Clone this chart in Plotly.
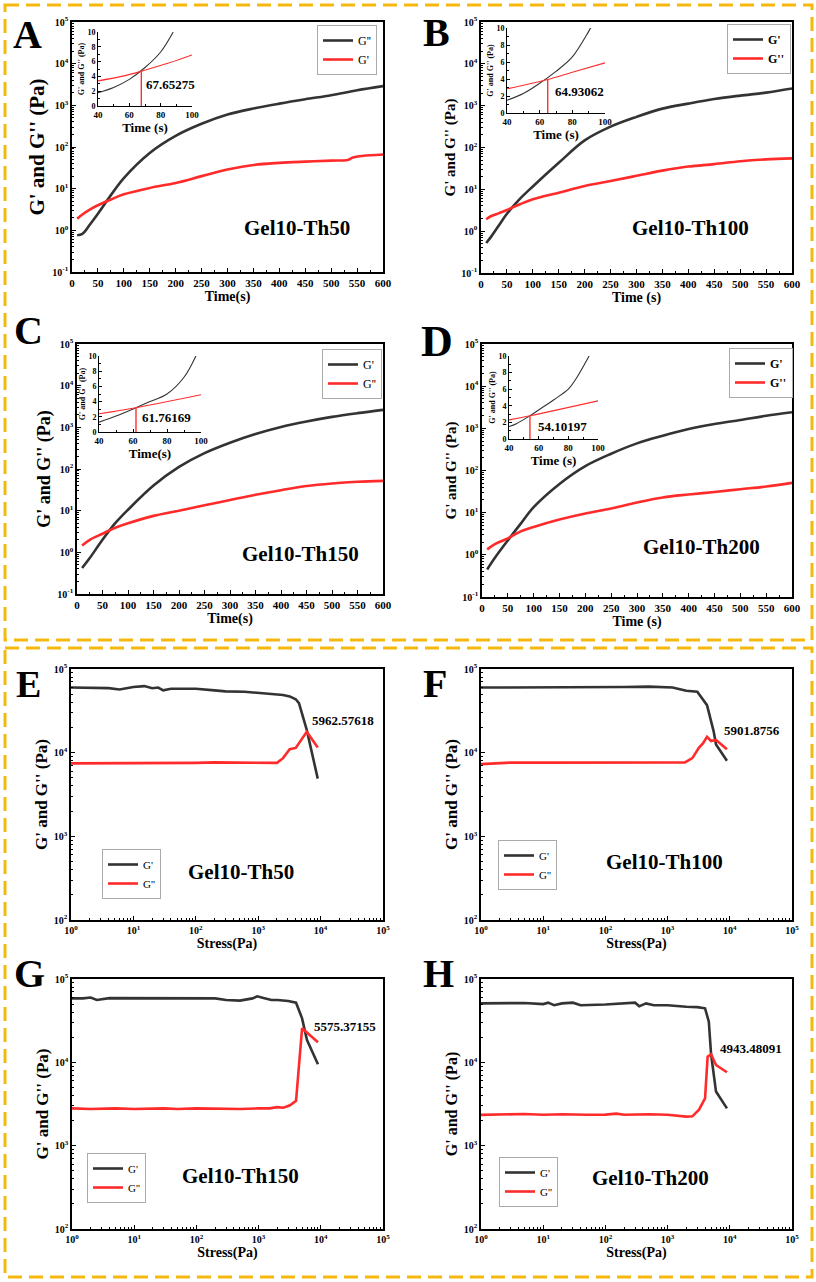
import math
import plotly.graph_objects as go

# ---------------- data ----------------
# Time sweeps (panels A-D): time (s), moduli (Pa)
time_A = [10, 20, 35, 50, 75, 100, 150, 200, 250, 300, 350, 400, 450, 500, 550, 600]
A_black = [0.76, 0.82, 1.4, 2.5, 7.0, 18, 72, 185, 360, 600, 840, 1100, 1400, 1750, 2300, 2900]
time_A_red = [10, 20, 35, 50, 75, 100, 150, 200, 250, 300, 350, 400, 450, 500, 532, 542, 560, 600]
A_red = [1.9, 2.4, 3.2, 4.0, 5.5, 7.3, 10.4, 13.7, 20, 29, 37, 41.5, 44.5, 47, 49, 56, 61, 66]

time_B = [10, 20, 35, 50, 75, 100, 150, 200, 250, 300, 350, 400, 450, 500, 550, 600]
B_black = [0.52, 0.75, 1.4, 2.6, 5.9, 11.7, 43, 148, 315, 540, 850, 1120, 1440, 1740, 2050, 2570]
B_red = [1.93, 2.3, 2.7, 3.2, 4.4, 5.8, 8.3, 12, 15.8, 21, 28, 35, 40, 47, 52, 55]

time_C = [10, 25, 50, 75, 100, 150, 200, 250, 300, 350, 400, 450, 500, 550, 600]
C_black = [0.42, 0.73, 2.0, 5.0, 10.5, 40, 112, 240, 427, 690, 1020, 1380, 1780, 2190, 2630]
C_red = [1.45, 2.0, 2.8, 3.9, 5.0, 7.5, 10, 13.5, 18, 24, 31, 39, 45, 49.5, 52]

time_D = [10, 25, 50, 75, 100, 150, 200, 250, 300, 350, 400, 450, 500, 550, 600]
D_black = [0.45, 0.85, 2.2, 5.5, 13.5, 48, 127, 250, 440, 665, 960, 1270, 1580, 1990, 2400]
D_red = [1.35, 1.8, 2.45, 3.6, 4.6, 6.9, 9.6, 12.6, 17.5, 23, 27, 31, 36, 41.6, 51]

# Insets (zoom 40-100 s, linear modulus)
inA_t_black = [40, 50, 60, 70, 80, 88]
inA_black = [1.8, 2.5, 3.6, 5.2, 7.3, 10.0]
inA_t_red = [40, 55, 67.65, 85, 100]
inA_red = [3.4, 4.0, 4.7, 5.8, 6.9]

inB_t_black = [40, 50, 60, 70, 80, 90, 92]
inB_black = [1.5, 2.3, 3.5, 4.9, 6.6, 9.6, 10.3]
inB_t_red = [40, 64.93, 80, 100]
inB_red = [2.85, 3.95, 4.8, 5.9]

inC_t_black = [40, 50, 61.76, 70, 80, 90, 97]
inC_black = [1.3, 2.1, 3.2, 4.0, 5.0, 7.2, 10.0]
inC_t_red = [40, 61.76, 100]
inC_red = [2.4, 3.2, 4.9]

inD_t_black = [40, 45, 54.1, 60, 70, 80, 85, 94]
inD_black = [1.5, 1.85, 2.8, 3.5, 4.7, 6.0, 7.2, 10.0]
inD_t_red = [40, 54.1, 100]
inD_red = [2.3, 2.8, 4.6]

cross_time = [67.65275, 64.93062, 61.76169, 54.10197]
cross_mod = [4.7, 3.95, 3.2, 2.8]
cross_time_text = ["67.65275", "64.93062", "61.76169", "54.10197"]

# Stress sweeps (panels E-H): stress (Pa), moduli (Pa)
E_s_black = [1, 2, 4, 6, 8, 10, 15, 20, 25, 30, 40, 100, 200, 300, 600, 1000, 2000, 2500, 3200, 4000, 4500, 6000, 9000]
E_black = [60000, 59500, 59000, 57000, 59500, 61000, 62500, 59000, 60000, 55500, 58000, 58000, 55500, 54000, 53500, 52000, 50500, 49000, 47000, 43500, 39000, 18700, 4900]
E_s_red = [1, 2, 4, 10, 30, 100, 200, 500, 1000, 1500, 2000, 2500, 3200, 4000, 4500, 6000, 9000]
E_red = [7450, 7450, 7500, 7500, 7550, 7550, 7650, 7650, 7550, 7700, 7550, 8600, 11000, 11400, 12900, 17800, 11500]

F_s_black = [1, 2, 5, 10, 20, 50, 100, 200, 500, 1000, 1200, 2000, 3000, 4300, 5500, 6000, 9000]
F_black = [60000, 60000, 60500, 61000, 60500, 61000, 61000, 61000, 61500, 60500, 60000, 55000, 53500, 37000, 18000, 12500, 8000]
F_s_red = [1, 3, 10, 100, 1000, 1900, 2500, 3200, 3700, 4300, 5000, 6000, 7000, 9000]
F_red = [7300, 7600, 7600, 7650, 7650, 7650, 8600, 11500, 12900, 15500, 13800, 14200, 12900, 11000]

G_s_black = [1, 1.5, 2, 2.5, 4, 10, 50, 200, 300, 500, 800, 950, 1200, 1600, 2000, 3000, 4000, 5000, 5500, 6000, 9000]
G_black = [58500, 58500, 60000, 56000, 59000, 59000, 59000, 58500, 56000, 55000, 58500, 62000, 59000, 56000, 56000, 54500, 52000, 33700, 24500, 18500, 9500]
G_s_red = [1, 2, 5, 10, 30, 50, 100, 300, 500, 1000, 1500, 2000, 2500, 3200, 4000, 5000, 9000]
G_red = [2800, 2750, 2800, 2750, 2800, 2750, 2800, 2750, 2750, 2800, 2800, 2900, 2850, 3050, 3450, 25600, 17400]

H_s_black = [1, 5, 10, 12, 15, 20, 30, 40, 100, 200, 300, 350, 450, 600, 1000, 2000, 3000, 4000, 4600, 5000, 6000, 9000]
H_black = [51000, 51500, 50000, 52000, 48500, 51000, 52000, 48500, 49500, 50500, 52000, 47000, 51000, 48500, 48500, 46500, 46000, 44500, 30800, 12500, 4460, 2800]
H_s_red = [1, 2, 5, 10, 20, 50, 100, 150, 200, 500, 1000, 2000, 2500, 3200, 4000, 4400, 5000, 6000, 9000]
H_red = [2340, 2350, 2400, 2350, 2380, 2350, 2360, 2420, 2350, 2380, 2350, 2230, 2250, 2700, 3700, 11700, 12500, 9300, 7600]

cross_stress_text = ["5962.57618", "5901.8756", "5575.37155", "4943.48091"]

panel_letters = ["A", "B", "C", "D", "E", "F", "G", "H"]
sample_names = ["Gel10-Th50", "Gel10-Th100", "Gel10-Th150", "Gel10-Th200"] * 2
legend_names = [("G''", "G'")] + [("G'", "G''")] * 7
x_titles = ["Time(s)", "Time (s)", "Time(s)", "Time (s)", "Stress(Pa)", "Stress(Pa)", "Stress(Pa)", "Stress(Pa)"]
inset_x_titles = ["Time (s)", "Time (s)", "Time(s)", "Time (s)"]
y_title = "G' and G'' (Pa)"

# ---------------- layout helpers ----------------
W, H = 816, 1282
FONT = "Liberation Serif"
BLACK = "#333333"
RED = "#FF2B2B"
GOLD = "#F6B80E"


def fx(p):
    return p / W


def fy(p):
    return 1 - p / H


main_boxes = [(72, 383, 22, 272), (481, 792, 22, 273), (77, 383, 344, 594), (482, 792, 344, 597),
              (71, 383, 669, 920), (481, 792, 669, 920), (72, 383, 979, 1229), (481, 792, 979, 1229)]
inset_boxes = [(98, 192, 32, 106), (507, 605, 28, 113), (99, 201, 356, 432), (509, 598, 356, 439)]

letter_pos = [(27, 35), (436, 33), (28, 330), (437, 341), (28, 684), (435, 683), (29, 973), (438, 973)]
letter_size = [40, 40, 40, 44, 38, 40, 40, 40]
sample_pos = [(297, 228), (690, 228), (300, 554), (701, 547), (241, 872), (664, 862), (240, 1176), (650, 1178)]
legend_pos = [(317, 25), (727, 24), (322, 349), (729, 348), (102, 849), (498, 840), (87, 1153), (499, 1157)]
legend_bold = [False, True, False, True, False, False, False, False]
ytitle_size = [21, 15, 18, 15, 17, 17, 17, 16]
inset_label_pos = [(144, 85), (553, 92), (140, 418), (536, 427)]
stress_label_pos = [(310, 721), (722, 730), (312, 1026), (718, 1048)]


def ax_ids(n):
    return ("xaxis" if n == 1 else f"xaxis{n}", "yaxis" if n == 1 else f"yaxis{n}",
            "x" if n == 1 else f"x{n}", "y" if n == 1 else f"y{n}")


def tfont(size):
    return dict(family=FONT, size=size, color="black", weight="bold")


fig = go.Figure()
layout = dict(width=W, height=H, margin=dict(l=0, r=0, t=0, b=0, autoexpand=False),
              paper_bgcolor="white", plot_bgcolor="rgba(0,0,0,0)", showlegend=True)

time_series = [(time_A, A_black, time_A_red, A_red), (time_B, B_black, time_B, B_red),
               (time_C, C_black, time_C, C_red), (time_D, D_black, time_D, D_red)]
stress_series = [(E_s_black, E_black, E_s_red, E_red), (F_s_black, F_black, F_s_red, F_red),
                 (G_s_black, G_black, G_s_red, G_red), (H_s_black, H_black, H_s_red, H_red)]
inset_series = [(inA_t_black, inA_black, inA_t_red, inA_red), (inB_t_black, inB_black, inB_t_red, inB_red),
                (inC_t_black, inC_black, inC_t_red, inC_red), (inD_t_black, inD_black, inD_t_red, inD_red)]

log_major_time = [10 ** k for k in range(-1, 6)]
log_major_stress_y = [10 ** k for k in range(2, 6)]
log_major_x = [10 ** k for k in range(0, 6)]


def sup_text(vals):
    return [f"10<sup>{round(math.log10(v))}</sup>" for v in vals]


def minors(lo, hi):
    return [m * 10 ** k for k in range(lo, hi) for m in range(2, 10)]


annotations = []
for i in range(8):
    n = i + 1
    xa, ya, xr, yr = ax_ids(n)
    l, r, t, b = main_boxes[i]
    base = dict(showline=True, linecolor="black", linewidth=1.6, mirror=True, ticks="inside",
                ticklen=4, tickwidth=1.2, tickcolor="black", showgrid=False, zeroline=False)
    if i < 4:
        xs = dict(base, domain=[fx(l), fx(r)], anchor=yr, range=[0, 600], tickmode="linear", tick0=0, dtick=50,
                  tickfont=tfont(11), minor=dict(ticks="inside", ticklen=2, tickcolor="black", dtick=25, showgrid=False),
                  title=dict(text=x_titles[i], font=tfont(14), standoff=0))
        ys = dict(base, domain=[fy(b), fy(t)], anchor=xr, type="log", range=[-1, 5], tickmode="array",
                  tickvals=log_major_time, ticktext=sup_text(log_major_time), tickfont=tfont(10),
                  minor=dict(ticks="inside", ticklen=2, tickcolor="black", tickmode="array",
                             tickvals=minors(-1, 5), showgrid=False),
                  title=dict(text=y_title, font=tfont(ytitle_size[i]), standoff=2))
        xb, yb, xrd, yrd = time_series[i]
        shape = "spline"
    else:
        xs = dict(base, domain=[fx(l), fx(r)], anchor=yr, type="log", range=[0, 5], tickmode="array",
                  tickvals=log_major_x, ticktext=sup_text(log_major_x), tickfont=tfont(10),
                  minor=dict(ticks="inside", ticklen=2, tickcolor="black", tickmode="array",
                             tickvals=minors(0, 5), showgrid=False),
                  title=dict(text=x_titles[i], font=tfont(14), standoff=0))
        ys = dict(base, domain=[fy(b), fy(t)], anchor=xr, type="log", range=[2, 5], tickmode="array",
                  tickvals=log_major_stress_y, ticktext=sup_text(log_major_stress_y), tickfont=tfont(10),
                  minor=dict(ticks="inside", ticklen=2, tickcolor="black", tickmode="array",
                             tickvals=minors(2, 5), showgrid=False),
                  title=dict(text=y_title, font=tfont(ytitle_size[i]), standoff=2))
        xb, yb, xrd, yrd = stress_series[i - 4]
        shape = "linear"
    layout[xa] = xs
    layout[ya] = ys
    leg = "legend" if n == 1 else f"legend{n}"
    nb, nr = legend_names[i]
    fig.add_trace(go.Scatter(x=xb, y=yb, xaxis=xr, yaxis=yr, mode="lines", name=nb, legend=leg,
                             line=dict(color=BLACK, width=2.6, shape=shape)))
    fig.add_trace(go.Scatter(x=xrd, y=yrd, xaxis=xr, yaxis=yr, mode="lines", name=nr, legend=leg,
                             line=dict(color=RED, width=2.6, shape=shape)))
    lx, ly = legend_pos[i]
    layout[leg] = dict(x=fx(lx), y=fy(ly), xanchor="left", yanchor="top", bgcolor="white",
                       bordercolor="#aaaaaa", borderwidth=1, tracegroupgap=0, itemwidth=30,
                       font=dict(family=FONT, size=12 if i < 4 else 11, color="black",
                                 weight="bold" if legend_bold[i] else "normal"))
    px_, py_ = letter_pos[i]
    annotations.append(dict(xref="paper", yref="paper", x=fx(px_), y=fy(py_), xanchor="center", yanchor="middle",
                            text=f"<b>{panel_letters[i]}</b>", showarrow=False,
                            font=dict(family=FONT, size=letter_size[i], color="black")))
    sx, sy = sample_pos[i]
    annotations.append(dict(xref="paper", yref="paper", x=fx(sx), y=fy(sy), xanchor="center", yanchor="middle",
                            text=f"<b>{sample_names[i]}</b>", showarrow=False,
                            font=dict(family=FONT, size=21, color="black")))
    if i >= 4:
        sx, sy = stress_label_pos[i - 4]
        annotations.append(dict(xref="paper", yref="paper", x=fx(sx), y=fy(sy), xanchor="left", yanchor="middle",
                                text=f"<b>{cross_stress_text[i - 4]}</b>", showarrow=False,
                                font=dict(family=FONT, size=13, color="black")))

# insets
for j in range(4):
    n = 9 + j
    xa, ya, xr, yr = ax_ids(n)
    l, r, t, b = inset_boxes[j]
    base = dict(showline=True, linecolor="black", linewidth=1, mirror=False, ticks="inside",
                ticklen=3, tickwidth=1, tickcolor="black", showgrid=False, zeroline=False)
    layout[xa] = dict(base, domain=[fx(l), fx(r)], anchor=yr, range=[40, 100], tickmode="linear", tick0=40, dtick=20,
                      tickfont=tfont(9), minor=dict(ticks="inside", ticklen=2, tickcolor="black", dtick=10, showgrid=False),
                      title=dict(text=inset_x_titles[j], font=tfont(13), standoff=0))
    layout[ya] = dict(base, domain=[fy(b), fy(t)], anchor=xr, range=[0, 10], tickmode="linear", tick0=0, dtick=2,
                      tickfont=tfont(8), minor=dict(ticks="inside", ticklen=2, tickcolor="black", dtick=1, showgrid=False),
                      title=dict(text=y_title, font=tfont(8), standoff=1))
    tb, vb, tr, vr = inset_series[j]
    fig.add_trace(go.Scatter(x=tb, y=vb, xaxis=xr, yaxis=yr, mode="lines", showlegend=False,
                             line=dict(color=BLACK, width=1.1, shape="spline")))
    fig.add_trace(go.Scatter(x=tr, y=vr, xaxis=xr, yaxis=yr, mode="lines", showlegend=False,
                             line=dict(color=RED, width=1.1, shape="spline")))
    fig.add_trace(go.Scatter(x=[cross_time[j], cross_time[j]], y=[0, cross_mod[j]], xaxis=xr, yaxis=yr,
                             mode="lines", showlegend=False, line=dict(color="#FF3030", width=1.4)))
    ix, iy = inset_label_pos[j]
    annotations.append(dict(xref="paper", yref="paper", x=fx(ix), y=fy(iy), xanchor="left", yanchor="middle",
                            text=f"<b>{cross_time_text[j]}</b>", showarrow=False,
                            font=dict(family=FONT, size=13, color="black")))

shapes = [
    dict(type="rect", xref="paper", yref="paper", x0=fx(5), x1=fx(812), y0=fy(5), y1=fy(640),
         line=dict(color=GOLD, width=3, dash="14px,7px")),
    dict(type="rect", xref="paper", yref="paper", x0=fx(5), x1=fx(812), y0=fy(648), y1=fy(1277),
         line=dict(color=GOLD, width=3, dash="14px,7px")),
]
layout["annotations"] = annotations
layout["shapes"] = shapes
fig.update_layout(**layout)
fig.write_html("out.html", config={"displayModeBar": False},
               post_script="document.body.style.margin='0px';document.body.style.overflow='hidden';")
